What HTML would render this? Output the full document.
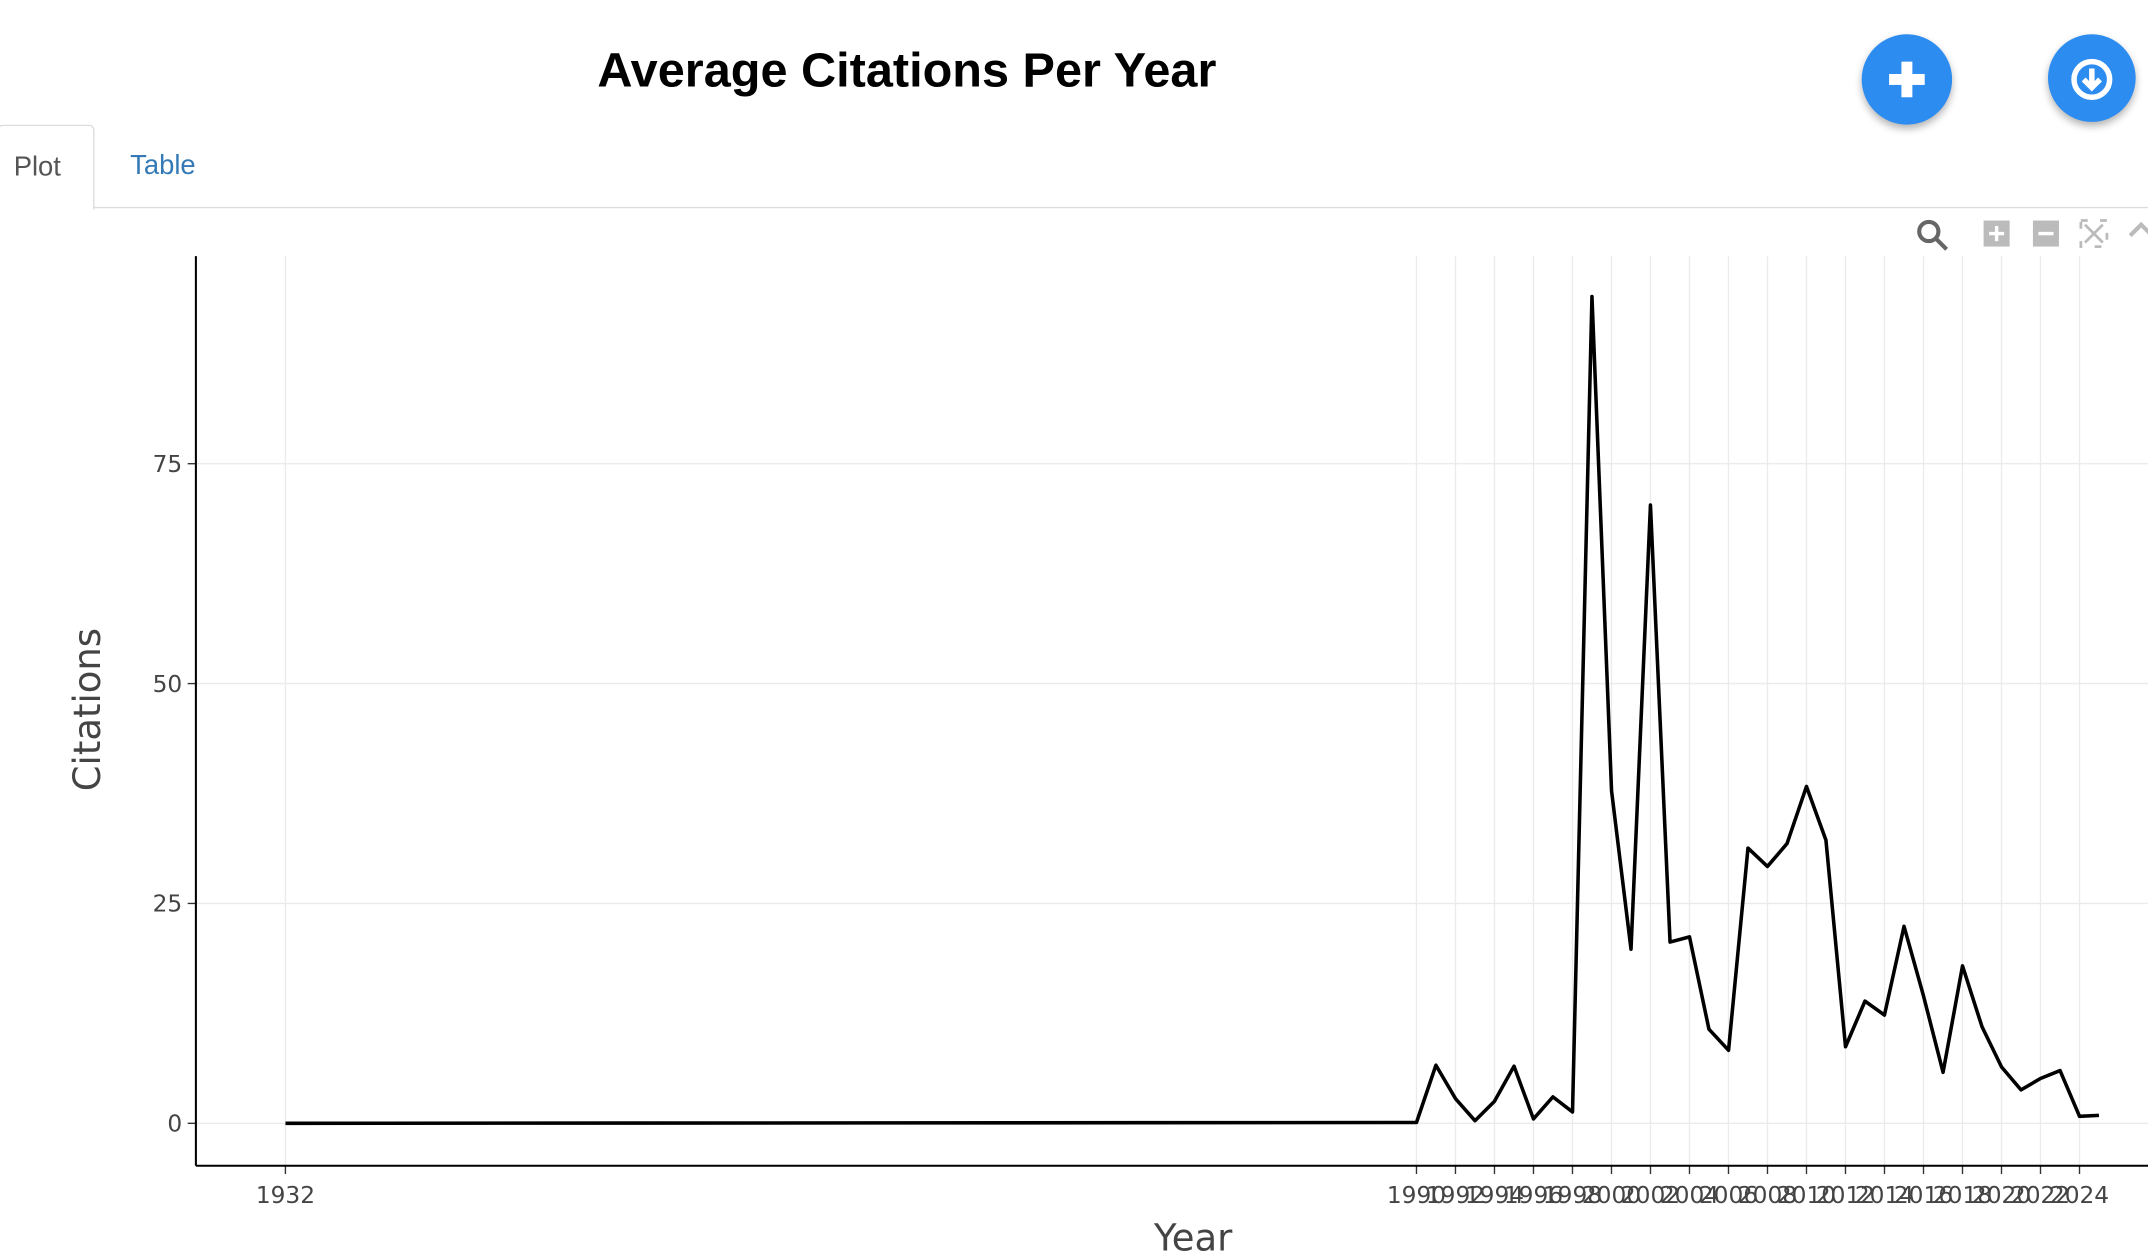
<!DOCTYPE html>
<html><head><meta charset="utf-8"><style>
html,body{margin:0;padding:0;background:#fff;overflow:hidden;width:2148px;height:1257px}
#wrap{position:absolute;left:0;top:0;width:1568px;height:918px;transform:scale(1.369898);transform-origin:0 0;font-family:"Liberation Sans",sans-serif}
.title{position:absolute;left:0;width:1324px;top:31px;text-align:center;font-weight:bold;font-size:35.5px;color:#000}
.btn{position:absolute;width:66px;height:66px;border-radius:50%;background:#2d8cf0;box-shadow:0 3px 6px rgba(0,0,0,.3)}
.tab{position:absolute;font-size:20px}
</style></head><body>
<div id="wrap">
<div class="title">Average Citations Per Year</div>
<div class="btn" style="left:1359px;top:25px">
<svg width="66" height="66"><rect x="20" y="29" width="26" height="8" fill="#fff"/><rect x="29" y="20" width="8" height="26" fill="#fff"/></svg></div>
<div class="btn" style="left:1495px;top:25px;width:64px;height:64px">
<svg width="64" height="64"><circle cx="32" cy="33" r="13" fill="none" stroke="#fff" stroke-width="4"/><path d="M32 25v13M26 33l6 6 6-6" stroke="#fff" stroke-width="4" fill="none"/></svg></div>
<div style="position:absolute;left:-2px;top:91px;width:69px;height:61px;border:1px solid #ddd;border-bottom:none;border-radius:4px 4px 0 0;background:#fff"><span class="tab" style="left:11px;top:19px;color:#555">Plot</span></div>
<div class="tab" style="left:95px;top:110px;color:#337ab7">Table</div>
<div style="position:absolute;left:68px;top:151px;width:1500px;height:1px;background:#ddd"></div>
<svg style="position:absolute;left:0;top:0" width="1568" height="918" id="chart">
<g>
<circle cx="1408" cy="169" r="7" fill="none" stroke="#666" stroke-width="3"/><line x1="1413" y1="174" x2="1421" y2="182" stroke="#666" stroke-width="3"/>
<rect x="1448" y="161" width="19" height="19" fill="#bbb"/><path d="M1452 170.5h11M1457.5 165v11" stroke="#fff" stroke-width="2.5"/>
<rect x="1484" y="161" width="19" height="19" fill="#bbb"/><path d="M1488 170.5h11" stroke="#fff" stroke-width="2.5"/>
<rect x="1519" y="161" width="19" height="19" fill="none" stroke="#bbb" stroke-width="2" stroke-dasharray="5 9"/><path d="M1522 164l13 13M1535 164l-13 13" stroke="#bbb" stroke-width="2"/>
<path d="M1555 172l8-8 8 8" stroke="#bbb" stroke-width="3" fill="none"/>
</g>
<g id="grid"></g><g id="axes"></g><path id="line" fill="none" stroke="#000" stroke-width="2.6" stroke-linejoin="round"/>
<text x="73" y="518" transform="rotate(-90 73 518)" text-anchor="middle" font-size="27" fill="#444" font-family="DejaVu Sans,sans-serif">Citations</text>
<text x="871" y="913" text-anchor="middle" font-size="27" fill="#444" font-family="DejaVu Sans,sans-serif">Year</text>
</svg>
</div>
<script>
const years=[1932,1990,1991,1992,1993,1994,1995,1996,1997,1998,1999,2000,2001,2002,2003,2004,2005,2006,2007,2008,2009,2010,2011,2012,2013,2014,2015,2016,2017,2018,2019,2020,2021,2022,2023,2024,2025];
const citations=[0,0.1,6.6,2.8,0.3,2.5,6.5,0.5,3,1.3,94,37.8,19.8,70.3,20.6,21.2,10.7,8.3,31.3,29.2,31.8,38.3,32.2,8.7,13.9,12.3,22.4,14.5,5.8,17.9,11,6.4,3.8,5.1,6,0.8,0.9];
const xTicks=[1932,1990,1992,1994,1996,1998,2000,2002,2004,2006,2008,2010,2012,2014,2016,2018,2020,2022,2024];
const yTicks=[0,25,50,75];
const X=v=>1034+(v-1990)*(484/34), Y=v=>820-v*6.42;
const NS='http://www.w3.org/2000/svg';
const grid=document.getElementById('grid'), axes=document.getElementById('axes');
function mk(p,tag,attrs){const e=document.createElementNS(NS,tag);for(const k in attrs)e.setAttribute(k,attrs[k]);p.appendChild(e);return e;}
xTicks.forEach(t=>{
 const g=mk(grid,'line',{x1:X(t),x2:X(t),y1:187,y2:851,stroke:'#ebebeb','stroke-width':1});
 
 
 mk(axes,'line',{x1:X(t),x2:X(t),y1:851,y2:857,stroke:'#333'});
 const l=mk(axes,'text',{x:X(t),y:878,'text-anchor':'middle','font-size':17,fill:'#444','font-family':'DejaVu Sans,sans-serif'});
 l.textContent=t;
 
 
});
yTicks.forEach(t=>{
 const g=mk(grid,'line',{x1:143,x2:1568,y1:Y(t),y2:Y(t),stroke:'#ebebeb','stroke-width':1});
 
 
 mk(axes,'line',{x1:137,x2:143,y1:Y(t),y2:Y(t),stroke:'#333'});
 const l=mk(axes,'text',{x:133,y:Y(t)+6,'text-anchor':'end','font-size':17,fill:'#444','font-family':'DejaVu Sans,sans-serif'});
 l.textContent=t;
 
 
});
const xa=mk(axes,'line',{x1:143,x2:1568,y1:851,y2:851,stroke:'#000','stroke-width':1.5});


const ya=mk(axes,'line',{x1:143,x2:143,y1:187,y2:851,stroke:'#000','stroke-width':1.5});


document.getElementById('line').setAttribute('d',years.map((y,i)=>(i?'L':'M')+X(y).toFixed(1)+' '+Y(citations[i]).toFixed(1)).join(''));
</script>
</body></html>
